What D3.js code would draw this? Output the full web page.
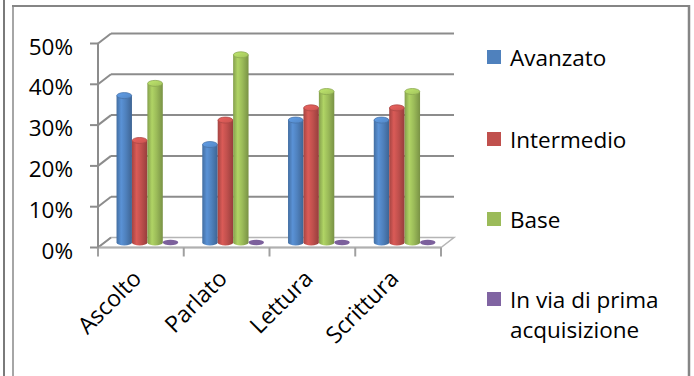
<!DOCTYPE html>
<html><head><meta charset="utf-8">
<script src="https://cdn.jsdelivr.net/npm/d3@7"></script>
<style>
html,body{margin:0;padding:0;background:#fff;}
svg{display:block;font-family:"Open Sans",sans-serif;}
</style></head>
<body>
<svg id="c" width="694" height="376"></svg>
<script>
const categories = ["Ascolto","Parlato","Lettura","Scrittura"];
const seriesNames = ["Avanzato","Intermedio","Base","In via di prima acquisizione"];
const avanzato   = [0.36,0.24,0.30,0.30];
const intermedio = [0.25,0.30,0.33,0.33];
const base       = [0.39,0.46,0.37,0.37];
const primaAcq   = [0,0,0,0];
const yTicks = [0,0.1,0.2,0.3,0.4,0.5];
const legendLines = [["Avanzato"],["Intermedio"],["Base"],["In via di prima","acquisizione"]];
const colors = ["#4F81BD","#C0504D","#9BBB59","#8064A2"];
const seriesValues = [avanzato, intermedio, base, primaAcq];

const svg = d3.select("#c");
svg.append("rect").attr("width",694).attr("height",376).attr("fill","#fff");

// frame
const frame = "#858585";
svg.append("line").attr("x1",4).attr("x2",4).attr("y1",0).attr("y2",376).attr("stroke","#7a7a7a").attr("stroke-width",2);
svg.append("line").attr("x1",13).attr("x2",13).attr("y1",6).attr("y2",376).attr("stroke","#a6a6a6").attr("stroke-width",2);
svg.append("line").attr("x1",12).attr("x2",690).attr("y1",6).attr("y2",6).attr("stroke",frame).attr("stroke-width",2);
svg.append("line").attr("x1",689).attr("x2",689).attr("y1",5).attr("y2",376).attr("stroke",frame).attr("stroke-width",2.5);

// geometry
const x0 = 98, x1 = 441, yFront0 = 247.5, yFront50 = 43.5;
const depth = {dx:13, dy:-10};
const y = d3.scaleLinear().domain([0,0.5]).range([yFront0,yFront50]);
const x = d3.scaleBand().domain(categories).range([x0,x1]).padding(0);
const xs = d3.scaleBand().domain(seriesNames).range([0,x.bandwidth()]).paddingInner(0).paddingOuter(0.78);

const grid = "#8c8c8c";
const g = svg.append("g");
// floor
g.append("path").attr("d",`M${x0},${y(0)}L${x1},${y(0)}L${x1+depth.dx},${y(0)+depth.dy}L${x0+depth.dx},${y(0)+depth.dy}Z`)
 .attr("fill","#fff").attr("stroke","#b5b5b5").attr("stroke-width",1.5);
// back wall gridlines + side diagonals + ticks
yTicks.forEach(t=>{
  const yy = y(t);
  if(t>0) g.append("line").attr("x1",x0+depth.dx).attr("x2",x1+depth.dx).attr("y1",yy+depth.dy).attr("y2",yy+depth.dy)
     .attr("stroke",grid).attr("stroke-width",2);
  g.append("line").attr("x1",x0).attr("y1",yy).attr("x2",x0+depth.dx).attr("y2",yy+depth.dy)
     .attr("stroke",grid).attr("stroke-width",2);
  g.append("line").attr("x1",x0-8).attr("x2",x0).attr("y1",yy).attr("y2",yy).attr("stroke",grid).attr("stroke-width",2);
  g.append("text").attr("x",73).attr("y",yy+11).attr("text-anchor","end").attr("font-size",22.5).attr("fill","#000")
    .text(d3.format(".0%")(t));
});
// front floor edge
g.append("line").attr("x1",x0).attr("x2",x1).attr("y1",y(0)).attr("y2",y(0)).attr("stroke","#b0b0b0").attr("stroke-width",2);
// vertical axis
g.append("line").attr("x1",x0).attr("x2",x0).attr("y1",y(0.5)).attr("y2",y(0)+8).attr("stroke",grid).attr("stroke-width",2);
// category ticks
const catEdges = categories.map(c=>x(c)).concat([x1]);
catEdges.forEach(e=>{
  g.append("line").attr("x1",e).attr("x2",e).attr("y1",y(0)).attr("y2",y(0)+9).attr("stroke","#a0a0a0").attr("stroke-width",2);
});
// category labels
categories.forEach(c=>{
  const cx = x(c)+x.bandwidth()/2+2, cy = 280;
  g.append("text").attr("transform",`translate(${cx},${cy}) rotate(-45)`).attr("text-anchor","end")
   .attr("font-size",23).attr("fill","#000").text(c);
});

// gradients
const defs = svg.append("defs");
colors.forEach((col,i)=>{
  const c = d3.color(col);
  const gr = defs.append("linearGradient").attr("id","gb"+i).attr("x1","0").attr("x2","1").attr("y1","0").attr("y2","0");
  gr.append("stop").attr("offset","0").attr("stop-color",c.darker(0.45));
  gr.append("stop").attr("offset","0.3").attr("stop-color",c.brighter(0.35));
  gr.append("stop").attr("offset","0.6").attr("stop-color",c);
  gr.append("stop").attr("offset","1").attr("stop-color",c.darker(0.7));
  const gt = defs.append("linearGradient").attr("id","gt"+i).attr("x1","0").attr("x2","1").attr("y1","0").attr("y2","1");
  gt.append("stop").attr("offset","0").attr("stop-color",c.brighter(0.6));
  gt.append("stop").attr("offset","1").attr("stop-color",c.brighter(0.1));
});

// bars (cylinders), mid-depth
const mdx = depth.dx/2, mdy = depth.dy/2;
const ry = 3;
categories.forEach((c,ci)=>{
  seriesNames.forEach((s,si)=>{
    const v = seriesValues[si][ci];
    const bx = x(c)+xs(s)+mdx, bw = xs.bandwidth();
    const yb = y(0)+mdy, yt = y(v)+mdy;
    const col = d3.color(colors[si]);
    if(v>0){
      g.append("path").attr("d",`M${bx},${yt}L${bx},${yb}A${bw/2},${ry} 0 0 0 ${bx+bw},${yb}L${bx+bw},${yt}Z`)
       .attr("fill",`url(#gb${si})`);
      g.append("ellipse").attr("cx",bx+bw/2).attr("cy",yt).attr("rx",bw/2-0.3).attr("ry",ry)
       .attr("fill",`url(#gt${si})`).attr("stroke",col.darker(0.3)).attr("stroke-width",0.8);
    } else {
      g.append("ellipse").attr("cx",bx+bw/2).attr("cy",yt).attr("rx",bw/2).attr("ry",ry*0.9)
       .attr("fill",col.darker(0.1));
    }
  });
});

// legend
const lg = svg.append("g");
const legY = [66,148,228,308];
legendLines.forEach((lines,i)=>{
  lg.append("rect").attr("x",487).attr("y",legY[i]-16).attr("width",14).attr("height",14).attr("fill",colors[i]);
  lines.forEach((ln,j)=>{
    lg.append("text").attr("x",510).attr("y",legY[i]+j*30).attr("font-size",22.5).attr("fill","#000").text(ln);
  });
});
</script>
</body></html>
